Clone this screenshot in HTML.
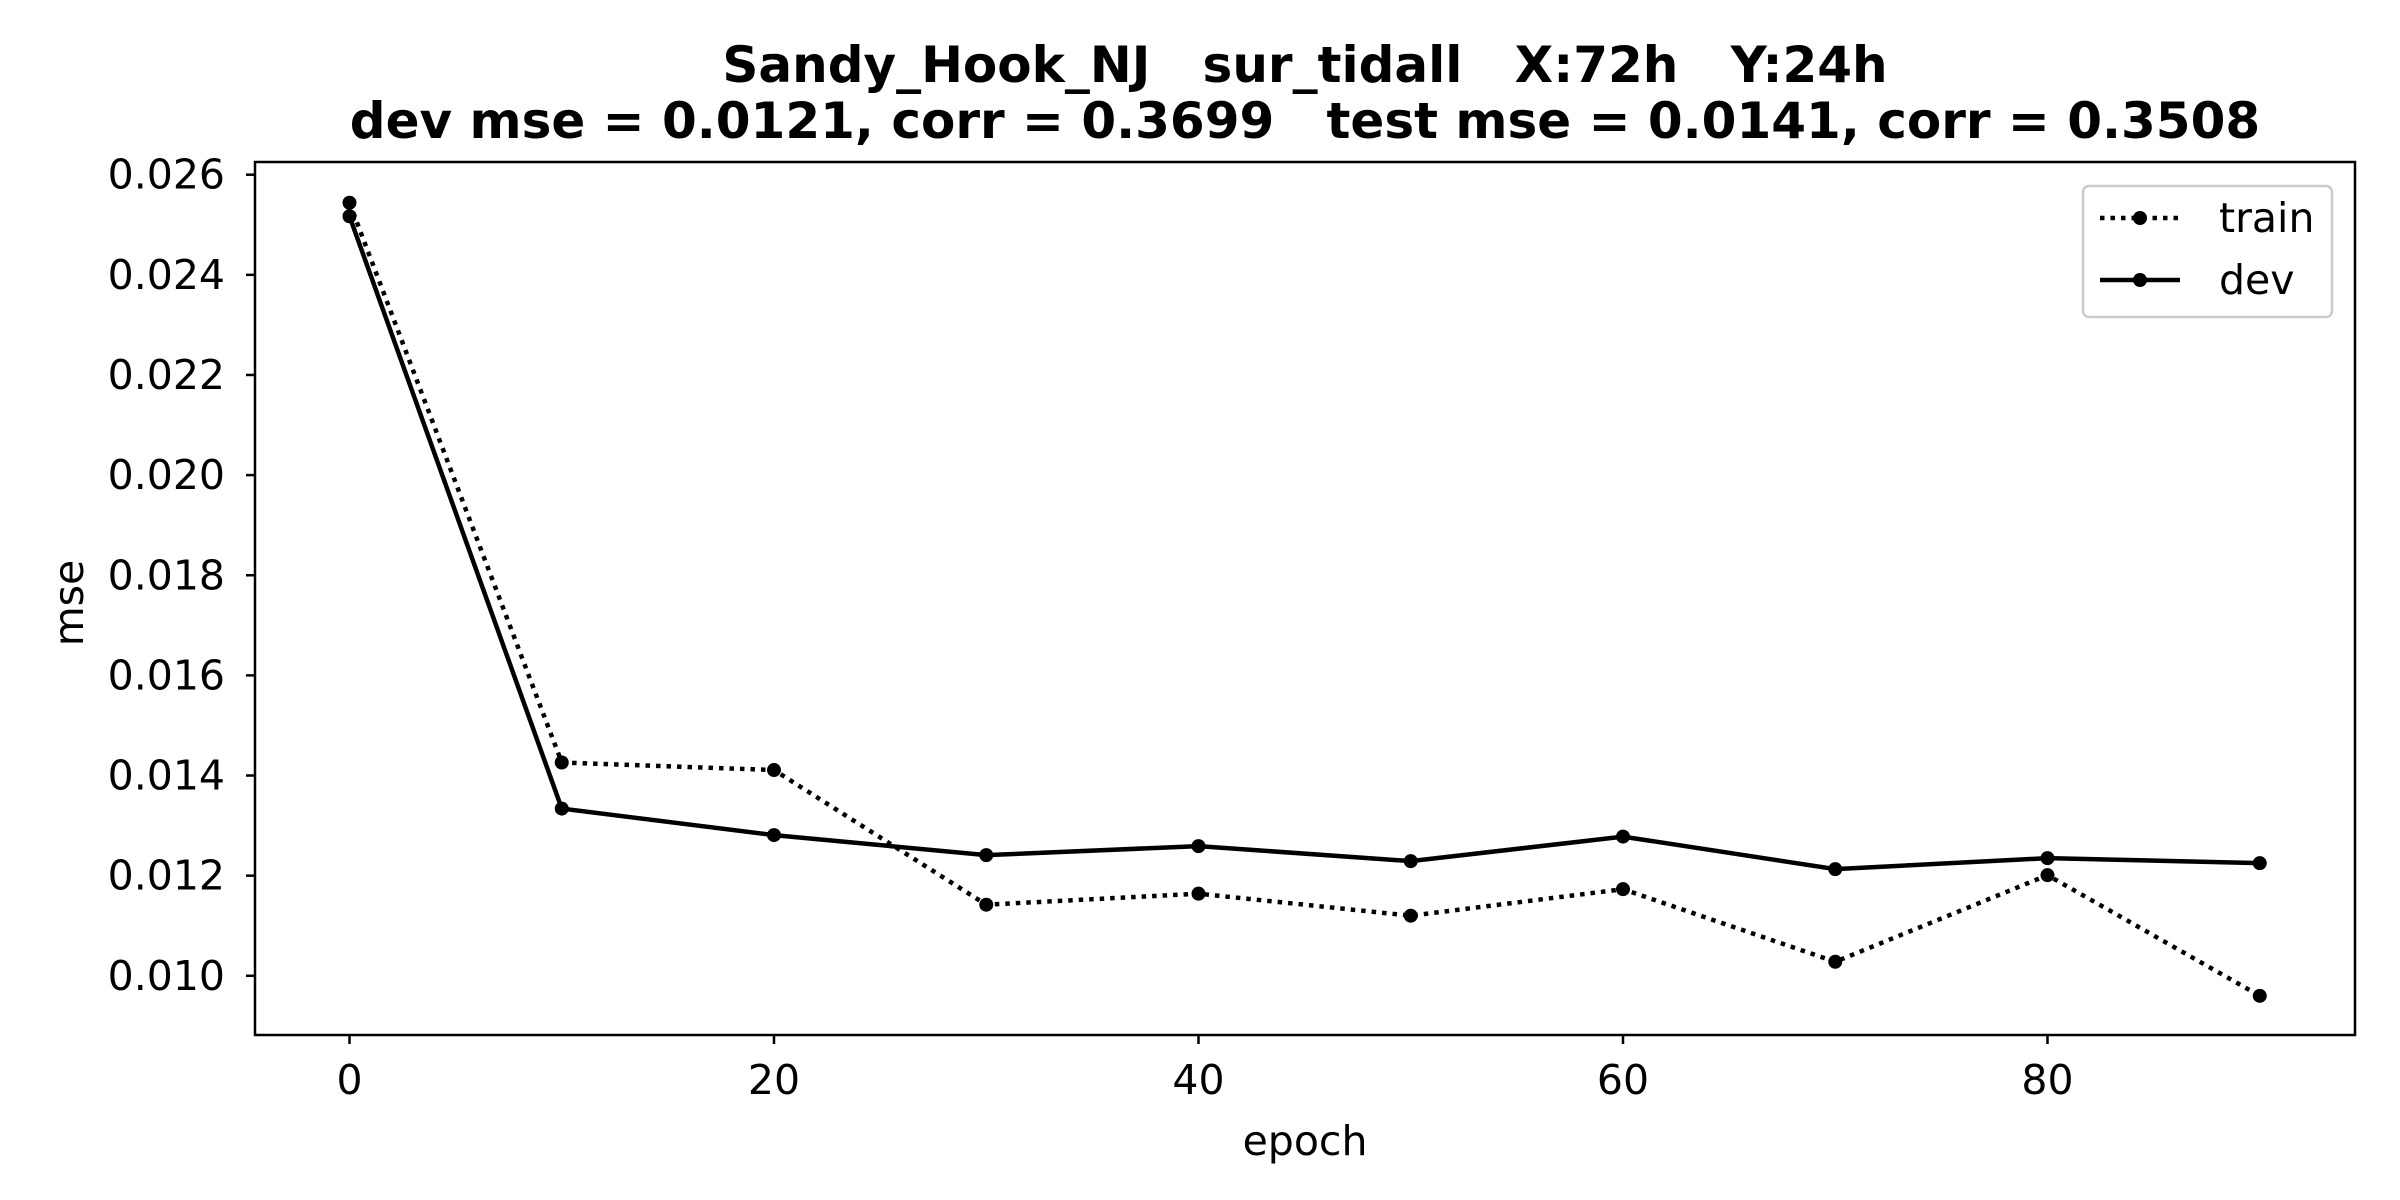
<!DOCTYPE html>
<html><head><meta charset="utf-8"><style>
html,body{margin:0;padding:0;background:#fff}
svg{display:block;font-family:"DejaVu Sans","Liberation Sans",sans-serif}
</style></head><body>
<svg id="chart" width="2400" height="1200" viewBox="0 0 2400 1200" xmlns="http://www.w3.org/2000/svg">
<rect width="2400" height="1200" fill="#fff"/>
<text x="1305" y="82" font-size="50" font-weight="bold" text-anchor="middle" xml:space="preserve">Sandy_Hook_NJ   sur_tidall   X:72h   Y:24h</text>
<text x="1305" y="138" font-size="50" font-weight="bold" text-anchor="middle" xml:space="preserve">dev mse = 0.0121, corr = 0.3699   test mse = 0.0141, corr = 0.3508</text>
<g id="axes"></g>
<text x="1305" y="1155" font-size="41" text-anchor="middle">epoch</text>
<text transform="translate(83,603) rotate(-90)" font-size="41" text-anchor="middle">mse</text>
<g>
<rect x="2083" y="186" width="249" height="131" rx="6" fill="#fff" stroke="#ccc" stroke-width="2.5"/>
<g>
<line x1="2100" y1="218" x2="2180" y2="218" stroke="#000" stroke-width="4.5" stroke-dasharray="4.5,6"/>
<circle cx="2140" cy="218" r="7"/>
<text x="2219" y="232" font-size="41">train</text></g>
<g>
<line x1="2100" y1="280" x2="2180" y2="280" stroke="#000" stroke-width="4.5"/>
<circle cx="2140" cy="280" r="7"/>
<text x="2219" y="294" font-size="41">dev</text></g>
</g>
</svg>
<script>
const epochs=[0,10,20,30,40,50,60,70,80,90];
const trainMse=[0.02544,0.01426,0.01411,0.01142,0.01164,0.01120,0.01173,0.01028,0.01201,0.00960];
const devMse=[0.02517,0.01334,0.01281,0.01241,0.01259,0.01229,0.01278,0.01213,0.01235,0.01225];
const xTicks=[0,20,40,60,80];
const yTicks=[0.010,0.012,0.014,0.016,0.018,0.020,0.022,0.024,0.026];
const NS="http://www.w3.org/2000/svg";
const L=255,R=2355,T=162,B=1035;
function xs(v){return 349.5+(v-0)*(2047.5-349.5)/80;}
function ys(v){return 975.8-(v-0.010)*(975.8-174.7)/0.016;}
const g=document.getElementById('axes');
function mk(t,a){const e=document.createElementNS(NS,t);for(const k in a)e.setAttribute(k,a[k]);g.appendChild(e);return e;}
function series(vals,name,dash){
  const p=mk('polyline',{points:vals.map((v,i)=>xs(epochs[i])+','+ys(v)).join(' '),fill:'none',stroke:'#000','stroke-width':4.5,'stroke-dasharray':dash||'none'});
  
  
  vals.forEach((v,i)=>{const c=mk('circle',{cx:xs(epochs[i]),cy:ys(v),r:7});
    
    });
}
series(trainMse,'train','4.5,6');
series(devMse,'dev');
const fr=mk('rect',{x:L,y:T,width:R-L,height:B-T,fill:'none',stroke:'#000','stroke-width':2.5});


xTicks.forEach(v=>{const x=xs(v);
  const l=mk('line',{x1:x,y1:B,x2:x,y2:B+9,stroke:'#000','stroke-width':2.5});
  
  
  const t=mk('text',{x:x,y:B+59,'font-size':41,'text-anchor':'middle'});t.textContent=v;
  
  });
yTicks.forEach(v=>{const y=ys(v);
  const l=mk('line',{x1:L-9,y1:y,x2:L,y2:y,stroke:'#000','stroke-width':2.5});
  
  
  const t=mk('text',{x:L-30,y:y+14,'font-size':41,'text-anchor':'end'});t.textContent=v.toFixed(3);
  
  });
</script>
</body></html>
